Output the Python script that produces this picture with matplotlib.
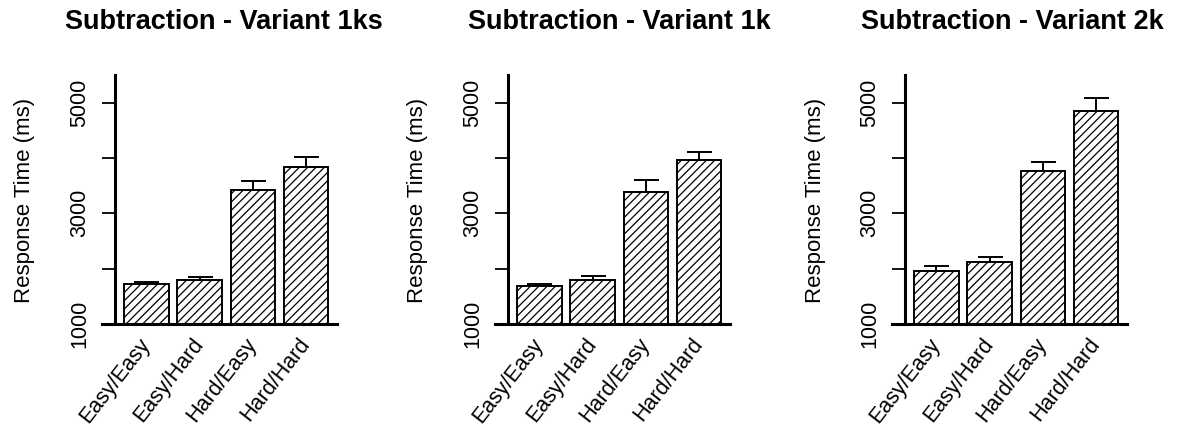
import matplotlib
matplotlib.use("Agg")
import matplotlib.pyplot as plt
import numpy as np

plt.rcParams['font.family'] = ['Liberation Sans', 'DejaVu Sans']
plt.rcParams['hatch.linewidth'] = 0.9

categories = ["Easy/Easy", "Easy/Hard", "Hard/Easy", "Hard/Hard"]
titles = ["Subtraction - Variant 1ks", "Subtraction - Variant 1k", "Subtraction - Variant 2k"]
means_1ks = [1723, 1788, 3428, 3832]
errs_1ks = [29, 62, 151, 188]
means_1k = [1693, 1788, 3387, 3971]
errs_1k = [30, 85, 223, 145]
means_2k = [1956, 2115, 3769, 4842]
errs_2k = [98, 96, 151, 249]
yticks = [1000, 2000, 3000, 4000, 5000]
ytick_labels = ["1000", "", "3000", "", "5000"]
ylabel = "Response Time (ms)"

W, H = 1179, 430
fig = plt.figure(figsize=(W / 100, H / 100), dpi=100)

panels = [(means_1ks, errs_1ks), (means_1k, errs_1k), (means_2k, errs_2k)]
lefts = [102, 495, 892]
title_cx = [224, 619, 1012]
bottom_px, top_px = 324, 75

xpos = np.array([0.7, 1.9, 3.1, 4.3])

for i, (m, e) in enumerate(panels):
    ax = fig.add_axes([lefts[i] / W, 1 - bottom_px / H, 235 / W, (bottom_px - top_px) / H])
    ax.bar(xpos, m, width=1.0, bottom=0, color='white', edgecolor='black',
           linewidth=1.4, hatch='////', zorder=2)
    ax.errorbar(xpos, m, yerr=[np.zeros(len(e)), e], fmt='none', ecolor='black',
                elinewidth=1.4, capsize=9, capthick=1.4, zorder=3)
    ax.set_xlim(-0.3, 5.0)
    ax.set_ylim(1000, 5500)
    for s in ['top', 'right']:
        ax.spines[s].set_visible(False)
    ax.spines['left'].set_position(('data', 0))
    ax.spines['left'].set_linewidth(2.2)
    ax.spines['bottom'].set_linewidth(2.2)
    ax.spines['left'].set_zorder(5)
    ax.spines['bottom'].set_zorder(5)
    ax.set_yticks(yticks)
    ax.set_yticklabels(ytick_labels, rotation=90, va='center', fontsize=15.5)
    ax.tick_params(axis='y', length=9.5, width=1.3, pad=8.5)
    ax.set_xticks(xpos)
    ax.set_xticklabels(categories, rotation=52, ha='right', va='center',
                       rotation_mode='anchor', fontsize=15.5)
    ax.tick_params(axis='x', length=0, pad=12)
    ax.patch.set_visible(False)
    fig.text((lefts[i] - 77) / W, 1 - 200 / H, ylabel, rotation=90,
             ha='center', va='center', fontsize=16)
    fig.text(title_cx[i] / W, 1 - 22 / H, titles[i], ha='center', va='center',
             fontsize=19.5, fontweight='bold')

fig.savefig("out.png", dpi=100)
